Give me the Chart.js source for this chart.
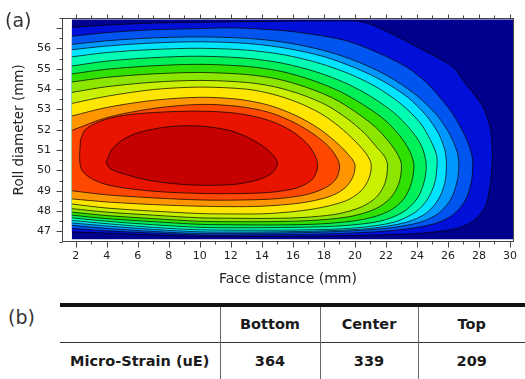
<!DOCTYPE html>
<html>
<head>
<meta charset="utf-8">
<script src="https://cdn.jsdelivr.net/npm/chart.js@4.4.1/dist/chart.umd.min.js"></script>
<style>
  body { margin: 0; background: #fff; width: 525px; height: 379px; overflow: hidden; position: relative; font-family: "DejaVu Sans", sans-serif; }
  #wrap { position: absolute; left: 0; top: 0; width: 525px; height: 290px; }
  .panel { position: absolute; font-size: 19px; line-height: 19px; color: #333; }
  #strain { position: absolute; left: 60px; top: 303px; width: 465px; border-collapse: collapse; table-layout: fixed;
            font-family: "DejaVu Sans", sans-serif; font-weight: bold; font-size: 14.5px; color: #1a1a1a; }
  #strain th, #strain td { text-align: center; padding: 0; font-weight: bold; }
  #strain tr.head { height: 37px; border-top: 4px solid #111; border-bottom: 1px solid #333; }
  #strain tr.body { height: 37px; border-bottom: 1px solid #333; }
  #strain .sep { border-left: 1px solid #666; }
</style>
</head>
<body>
<div id="wrap"><canvas id="contourChart" width="525" height="290"></canvas></div>
<div class="panel" style="left:5px; top:11px;">(a)</div>
<div class="panel" style="left:8px; top:308px;">(b)</div>
<table id="strain">
  <colgroup><col style="width:160px"><col style="width:100px"><col style="width:98px"><col style="width:107px"></colgroup>
  <tbody></tbody>
</table>
<script>
// axis ticks
const xTicks = [2, 4, 6, 8, 10, 12, 14, 16, 18, 20, 22, 24, 26, 28, 30];
const yTicks = [47, 48, 49, 50, 51, 52, 53, 54, 55, 56];

// table (b)
const tablePositions = ["Bottom", "Center", "Top"];
const tableRowLabel = "Micro-Strain (uE)";
const microStrain = [364, 339, 209];

// contour band colours, lowest level first
const levelColors = [
  "#00008c", "#0010d8", "#0055f0", "#0098ff", "#00e4ff",
  "#00ffb4", "#00f05a", "#30e000", "#8ce600", "#c8f000",
  "#ffe600", "#ff9600", "#ff4800", "#e81400", "#c40000",
];

// measured area (face distance, roll diameter)
const plotArea = [[1.75, 46.62], [30.2, 46.62], [30.2, 57.43], [1.75, 57.43]];

// contour boundaries, outer to inner
const contour1 = [[1.75,57.04],[4,57.15],[7,57.25],[10,57.29],[14,57.33],[18,57.35],[20.5,57.3],[22.7,56.6],[24.2,56.0],[25.2,55.6],[26.3,55.1],[27.1,54.3],[28.2,53.2],[28.7,52.2],[28.85,51.2],[28.85,50.3],[28.7,49.2],[28.4,48.2],[27.6,47.5],[26.4,47.12],[24,46.9],[20,46.8],[16,46.76],[13,46.75],[10,46.76],[7,46.83],[4,46.92],[1.75,46.98]];
const contour2 = [[1.75,56.6],[4,56.78],[7,56.92],[10,56.98],[12,57.02],[14,56.95],[16,56.83],[19.2,56.43],[21.25,55.87],[23.3,55.1],[24.5,54.4],[25.25,53.8],[26.3,52.8],[27.1,51.7],[27.5,50.9],[27.6,50.3],[27.5,49.4],[27.1,48.5],[26.3,47.8],[25,47.35],[22.5,47.05],[19,46.9],[16,46.85],[13,46.83],[10,46.83],[7,46.92],[4,47.03],[1.75,47.15]];
const contour3 = [[1.75,56.2],[4,56.38],[7,56.52],[10,56.57],[13,56.5],[15.5,56.3],[18,55.9],[20,55.4],[22,54.7],[23.8,53.8],[25.2,52.8],[26.1,51.8],[26.6,50.9],[26.7,50.3],[26.6,49.5],[26.2,48.6],[25.4,47.9],[24.2,47.45],[22,47.15],[19,47.0],[16,46.93],[13,46.9],[10,46.9],[7,47.0],[4,47.15],[1.75,47.3]];
const contour4 = [[1.75,55.94],[4,56.12],[7,56.27],[10,56.33],[13,56.25],[15.5,56.02],[18,55.6],[20,55.05],[21.8,54.4],[23.4,53.6],[24.6,52.7],[25.4,51.8],[25.8,51.0],[25.9,50.3],[25.8,49.4],[25.4,48.6],[24.6,47.9],[23.3,47.45],[21,47.15],[18,47.03],[15,46.98],[12,46.97],[10,46.98],[7,47.1],[4,47.27],[1.75,47.42]];
const contour5 = [[1.75,55.59],[4,55.8],[7,55.95],[10,56.01],[13,55.92],[15.5,55.68],[17.8,55.25],[19.8,54.7],[21.5,54.05],[23,53.25],[24.2,52.35],[24.9,51.45],[25.25,50.8],[25.3,50.3],[25.15,49.4],[24.7,48.6],[23.9,47.95],[22.5,47.45],[20,47.17],[17,47.08],[14,47.06],[10,47.08],[7,47.2],[4,47.38],[1.75,47.54]];
const contour6 = [[1.75,55.14],[4,55.38],[7,55.55],[10,55.62],[13,55.52],[15.3,55.28],[17.5,54.85],[19.4,54.3],[21,53.65],[22.5,52.85],[23.6,52.0],[24.3,51.2],[24.6,50.3],[24.45,49.4],[24.0,48.6],[23.1,47.95],[21.6,47.5],[19,47.27],[16,47.2],[13,47.18],[10,47.2],[7,47.33],[4,47.5],[1.75,47.67]];
const contour7 = [[1.75,54.75],[4,54.98],[7,55.15],[10,55.22],[13,55.12],[15.2,54.88],[17.2,54.45],[19,53.9],[20.5,53.25],[21.9,52.5],[22.9,51.7],[23.5,51.0],[23.8,50.3],[23.65,49.4],[23.15,48.6],[22.2,48.0],[20.6,47.6],[18,47.38],[15,47.32],[12,47.33],[10,47.35],[7,47.48],[4,47.63],[1.75,47.8]];
const contour8 = [[1.75,54.35],[4,54.58],[7,54.75],[10,54.82],[13,54.72],[15,54.5],[16.9,54.08],[18.6,53.55],[20,52.9],[21.3,52.15],[22.2,51.4],[22.75,50.8],[23.0,50.3],[22.85,49.4],[22.3,48.65],[21.3,48.1],[19.6,47.72],[17,47.53],[14,47.48],[12,47.48],[10,47.5],[7,47.63],[4,47.78],[1.75,47.95]];
const contour9 = [[1.75,53.84],[4,54.12],[7,54.34],[10,54.43],[13,54.33],[14.8,54.12],[16.6,53.72],[18.2,53.2],[19.5,52.55],[20.6,51.85],[21.4,51.15],[21.9,50.7],[22.1,50.3],[21.95,49.4],[21.4,48.7],[20.4,48.2],[18.8,47.85],[16.5,47.68],[14,47.64],[12,47.65],[10,47.67],[7,47.8],[4,47.95],[1.75,48.12]];
const contour10 = [[1.75,53.3],[4,53.65],[7,53.98],[10,54.1],[13,54.0],[14.7,53.75],[16.3,53.35],[17.8,52.8],[19.0,52.15],[20.0,51.45],[20.7,50.85],[21.05,50.3],[20.9,49.6],[20.4,49.0],[19.4,48.5],[17.3,48.1],[14.5,47.88],[12,47.86],[10,47.88],[7,48.0],[4,48.15],[1.75,48.35]];
const contour11 = [[1.75,52.68],[4,53.1],[7,53.45],[10,53.6],[12.5,53.5],[14.5,53.2],[16.2,52.7],[17.6,52.1],[18.7,51.45],[19.5,50.85],[20.0,50.3],[19.85,49.65],[19.3,49.1],[18.3,48.7],[16.5,48.4],[14,48.24],[12,48.22],[10,48.24],[7,48.32],[4,48.45],[1.75,48.6]];
const contour12 = [[1.75,51.97],[4,52.6],[7,53.05],[10,53.25],[12.5,53.15],[14.5,52.85],[16.1,52.35],[17.4,51.75],[18.4,51.1],[19.0,50.3],[18.8,49.6],[18.1,49.15],[16.8,48.8],[14.8,48.6],[12,48.54],[10,48.55],[7,48.65],[4,48.8],[1.75,49.0]];
const contour13 = [[2.3,51.5],[2.6,52.0],[3.5,52.4],[5,52.7],[7,52.85],[10,52.92],[12.5,52.8],[14.5,52.45],[16,51.9],[17.1,51.15],[17.6,50.3],[17.3,49.6],[16.3,49.15],[14.5,48.92],[12,48.86],[10,48.87],[7.5,48.95],[5.5,49.1],[4,49.3],[3,49.6],[2.4,50.0],[2.25,50.5],[2.3,51.5]];
const contour14 = [[3.95,50.4],[4.3,51.0],[5,51.5],[6,51.85],[7.5,52.1],[9,52.2],[10.5,52.15],[12,51.95],[13.3,51.55],[14.4,51.0],[15.0,50.4],[14.7,49.9],[13.8,49.55],[12.3,49.32],[10.3,49.27],[8.3,49.35],[6.5,49.55],[5,49.85],[4.2,50.1],[3.95,50.4]];

const contours = [contour1, contour2, contour3, contour4, contour5, contour6, contour7,
  contour8, contour9, contour10, contour11, contour12, contour13, contour14];

const toPts = (arr) => arr.map(([x, y]) => ({ x, y }));

// background band first, then each level drawn on top of the previous one
const datasets = [{
  data: toPts(plotArea),
  fill: "shape",
  backgroundColor: levelColors[0],
  borderWidth: 0,
  pointRadius: 0,
  order: 100,
}];
contours.forEach((c, i) => {
  datasets.push({
    data: toPts(c),
    fill: "shape",
    backgroundColor: levelColors[i + 1],
    borderColor: "rgba(0,0,0,0.7)",
    borderWidth: 1,
    pointRadius: 0,
    tension: 0.3,
    order: 50 - i,
  });
});

// frame with outward ticks like the original plot
const framePlugin = {
  id: "frame",
  afterDatasetsDraw(chart) {
    const { ctx, chartArea: a, scales: { x, y } } = chart;
    const L = Math.round(a.left) + 0.5, R = Math.round(a.right) - 0.5;
    const T = Math.round(a.top) + 0.5, B = Math.round(a.bottom) - 0.5;
    ctx.save();
    ctx.strokeStyle = "#444";
    ctx.lineWidth = 1;
    ctx.strokeRect(L, T, R - L, B - T);
    ctx.beginPath();
    for (let v = 1; v <= 30; v++) {
      if (v < x.min || v > x.max) continue;
      const px = Math.round(x.getPixelForValue(v)) + 0.5;
      const major = v % 2 === 0;
      ctx.moveTo(px, B); ctx.lineTo(px, B + (major ? 6 : 3));
      ctx.moveTo(px, T); ctx.lineTo(px, T - (major ? 4 : 3));
    }
    for (let v = 46.5; v <= 57.5; v += 0.5) {
      if (v < y.min || v > y.max) continue;
      const py = Math.round(y.getPixelForValue(v)) + 0.5;
      const major = v % 1 === 0;
      ctx.moveTo(L, py); ctx.lineTo(L - (major ? 6 : 3), py);
    }
    ctx.stroke();
    ctx.restore();
  },
};

const tickFont = { family: "DejaVu Sans", size: 11 };

new Chart(document.getElementById("contourChart").getContext("2d"), {
  type: "line",
  data: { datasets },
  options: {
    responsive: false,
    animation: false,
    devicePixelRatio: 1,
    layout: { padding: { top: 10, right: 3, left: 0, bottom: 0 } },
    plugins: { legend: { display: false }, tooltip: { enabled: false } },
    scales: {
      x: {
        type: "linear",
        min: 1.11,
        max: 30.25,
        afterBuildTicks: (s) => { s.ticks = xTicks.map((v) => ({ value: v })); },
        afterFit: (s) => { s.height = 48; },
        grid: { display: false, drawTicks: false },
        border: { display: false },
        ticks: { padding: 8, font: tickFont, color: "#222", maxRotation: 0, autoSkip: false },
        title: {
          display: true,
          text: "Face distance (mm)",
          font: { family: "DejaVu Sans", size: 14 },
          color: "#222",
          padding: { top: 0, bottom: 2 },
        },
      },
      y: {
        type: "linear",
        min: 46.48,
        max: 57.52,
        afterBuildTicks: (s) => { s.ticks = yTicks.map((v) => ({ value: v })); },
        afterFit: (s) => { s.width = 62; },
        grid: { display: false, drawTicks: false },
        border: { display: false },
        ticks: { padding: 11, font: tickFont, color: "#222", autoSkip: false },
        title: {
          display: true,
          text: "Roll diameter (mm)",
          font: { family: "DejaVu Sans", size: 13.5 },
          color: "#222",
          padding: { top: 11, bottom: 0 },
        },
      },
    },
  },
  plugins: [framePlugin],
});

// table (b)
const tbody = document.querySelector("#strain tbody");
const head = document.createElement("tr");
head.className = "head";
head.appendChild(document.createElement("th"));
tablePositions.forEach((p) => {
  const th = document.createElement("th");
  th.className = "sep";
  th.textContent = p;
  head.appendChild(th);
});
tbody.appendChild(head);
const row = document.createElement("tr");
row.className = "body";
const label = document.createElement("td");
label.textContent = tableRowLabel;
row.appendChild(label);
microStrain.forEach((v) => {
  const td = document.createElement("td");
  td.className = "sep";
  td.textContent = v;
  row.appendChild(td);
});
tbody.appendChild(row);
</script>
</body>
</html>
